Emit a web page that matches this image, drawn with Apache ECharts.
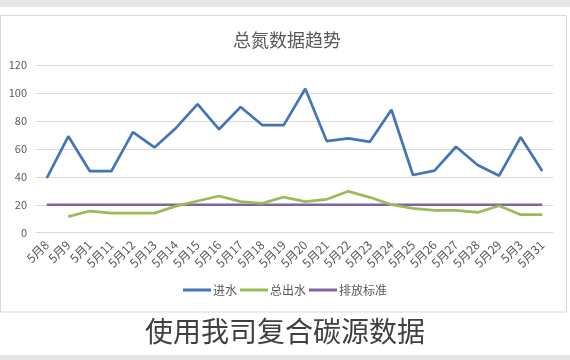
<!DOCTYPE html>
<html>
<head>
<meta charset="utf-8">
<script src="https://cdn.jsdelivr.net/npm/echarts@6/dist/echarts.min.js"></script>
<style>html,body{margin:0;padding:0;background:#fff}#c{width:570px;height:360px}</style>
</head>
<body>
<div id="c"></div>
<script>
var categories = ['5月8','5月9','5月1','5月11','5月12','5月13','5月14','5月15','5月16','5月17','5月18','5月19','5月20','5月21','5月22','5月23','5月24','5月25','5月26','5月27','5月28','5月29','5月3','5月31'];
var inflow = [39,69,44,44,72,61,75,92,74,90,77,77,103,65.5,67.5,65,88,41.3,44.4,61.5,48.4,40.8,68.3,44.2];
var outflow = [null,11.5,15.5,14,14,14,19,22.7,26.3,22.2,21,25.5,22.2,23.9,29.6,25.3,20,17.4,16,16,14.5,19.3,12.9,12.9];
var standard = [20,20,20,20,20,20,20,20,20,20,20,20,20,20,20,20,20,20,20,20,20,20,20,20];
var yTicks = {min:0, max:120, interval:20};
var seriesNames = ['进水','总出水','排放标准'];
var chartTitle = '总氮数据趋势';
var caption = '使用我司复合碳源数据';

var chart = echarts.init(document.getElementById('c'), null, {renderer:'canvas'});
var font = 'Microsoft YaHei, "Noto Sans CJK SC", sans-serif';
chart.setOption({
  animation:false,
  backgroundColor:'#fff',
  color:['#4375B7','#9BBB59','#8064A2'],
  title:{text:chartTitle,left:282,textAlign:'center',top:26,textStyle:{fontSize:18,fontWeight:'normal',color:'#595959',fontFamily:font}},
  legend:{bottom:59,left:'center',itemWidth:28,itemHeight:3,itemGap:3,icon:'rect',
    textStyle:{fontSize:12,color:'#595959',fontFamily:font,padding:[0,0,0,-3]},data:seriesNames},
  grid:{left:36,right:17,top:65,bottom:127.3,containLabel:false},
  xAxis:{type:'category',data:categories,boundaryGap:true,
    axisLine:{lineStyle:{color:'#D9D9D9'}},axisTick:{show:false},
    axisLabel:{rotate:45,interval:0,fontSize:12,color:'#595959',fontFamily:font,margin:10}},
  yAxis:{type:'value',min:yTicks.min,max:yTicks.max,interval:yTicks.interval,
    axisLine:{show:false},axisTick:{show:false},
    axisLabel:{fontSize:11,color:'#595959',fontFamily:font,margin:9},
    splitLine:{lineStyle:{color:'#D9D9D9',width:1}}},
  graphic:[
    {type:'rect',shape:{x:0,y:0,width:570,height:7},style:{fill:'#E6E6E6'},z:-10},
    {type:'rect',shape:{x:0.5,y:15.5,width:566,height:296.5},style:{fill:'none',stroke:'#D9D9D9',lineWidth:1},z:-9},
    {type:'rect',shape:{x:0,y:355,width:570,height:5},style:{fill:'#E6E6E6'},z:-10},
    {type:'text',left:'center',top:317,style:{text:caption,font:'28px "Noto Sans CJK SC", serif',fill:'#404040'}}
  ],
  series:[
    {name:seriesNames[0],type:'line',data:inflow,symbol:'none',lineStyle:{width:2.7},z:3},
    {name:seriesNames[1],type:'line',data:outflow,symbol:'none',lineStyle:{width:2.7},z:2},
    {name:seriesNames[2],type:'line',data:standard,symbol:'none',lineStyle:{width:2.7},z:1}
  ]
});
</script>
</body>
</html>
